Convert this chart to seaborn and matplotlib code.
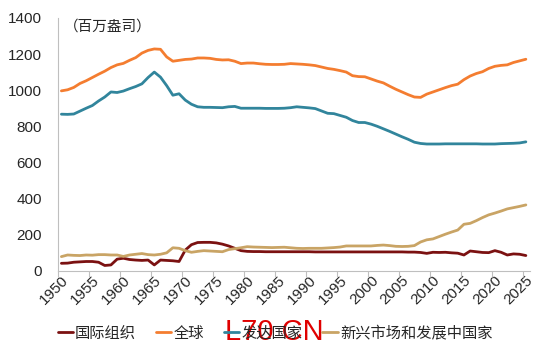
import numpy as np
import pandas as pd
import matplotlib
matplotlib.use("Agg")
import matplotlib.pyplot as plt
import seaborn as sns

# -----------------------------
# data (million ounces)
# -----------------------------
years = list(range(1950, 2026))

world = [996, 1002, 1015, 1037, 1052, 1070, 1088, 1105, 1125, 1140,
         1148, 1165, 1180, 1205, 1220, 1228, 1226, 1184, 1160, 1165,
         1170, 1172, 1178, 1178, 1176, 1170, 1167, 1168, 1160, 1147,
         1150, 1150, 1146, 1143, 1142, 1142, 1143, 1147, 1145, 1143,
         1140, 1136, 1128, 1120, 1115, 1108, 1100, 1080, 1075, 1074,
         1062, 1050, 1040, 1022, 1005, 990, 975, 962, 960, 978,
         990, 1002, 1014, 1025, 1033, 1058, 1078, 1092, 1102, 1120,
         1132, 1137, 1140, 1153, 1162, 1171]

advanced = [867, 866, 868, 884, 900, 915, 940, 962, 990, 987,
            995, 1008, 1020, 1035, 1070, 1100, 1072, 1025, 972, 980,
            945, 922, 908, 905, 905, 904, 903, 908, 910, 900,
            900, 900, 900, 899, 899, 899, 900, 903, 908, 905,
            902, 898, 885, 872, 870, 860, 850, 832, 821, 821,
            812, 800, 786, 772, 757, 742, 728, 712, 705, 702,
            702, 702, 703, 703, 703, 703, 703, 703, 702, 702,
            702, 704, 705, 706, 708, 714]

intl_org = [42, 43, 48, 50, 52, 52, 48, 30, 33, 65,
            70, 63, 60, 58, 60, 33, 60, 58, 56, 52,
            115, 145, 157, 158, 158, 155, 148, 138, 125, 112,
            108, 107, 107, 106, 106, 106, 106, 106, 106, 106,
            106, 105, 105, 105, 105, 105, 105, 105, 105, 105,
            105, 105, 105, 105, 105, 105, 104, 104, 102, 97,
            103, 102, 103, 100, 98, 88, 110, 106, 102, 101,
            112, 103, 88, 94, 92, 85]

emerging = [79, 88, 86, 85, 88, 87, 90, 90, 88, 88,
            80, 88, 92, 96, 90, 88, 92, 100, 128, 125,
            112, 103, 108, 112, 110, 108, 106, 118, 123, 128,
            134, 132, 131, 130, 129, 130, 131, 128, 125, 124,
            125, 125, 125, 127, 129, 132, 138, 138, 138, 138,
            138, 141, 143, 140, 136, 135, 136, 140, 160, 172,
            177, 190, 203, 215, 226, 258, 263, 278, 295, 310,
            320, 331, 343, 350, 357, 365]

series_names = ["国际组织", "全球", "发达国家", "新兴市场和发展中国家"]
series_colors = ["#7B1111", "#F47D30", "#31859C", "#C9A465"]

df = pd.DataFrame({
    "year": years,
    "国际组织": intl_org,
    "全球": world,
    "发达国家": advanced,
    "新兴市场和发展中国家": emerging,
})
long_df = df.melt(id_vars="year", var_name="series", value_name="value")

# -----------------------------
# plot
# -----------------------------
sns.set_style("white")
plt.rcParams["font.family"] = ["Liberation Sans", "Noto Sans CJK SC", "DejaVu Sans"]

fig = plt.figure(figsize=(5.5, 3.5), dpi=100)
ax = fig.add_axes([0.106, 0.226, 0.858, 0.723])

sns.lineplot(data=long_df, x="year", y="value", hue="series",
             hue_order=series_names, palette=series_colors,
             linewidth=2, ax=ax, legend=False)

ax.set_xlim(1949.5, 2025.7)
ax.set_ylim(0, 1400)
ax.set_yticks(range(0, 1401, 200))
ax.set_xticks(range(1950, 2026, 5))
ax.set_xticks(np.arange(1949.5, 2026, 5), minor=True)
ax.set_xlabel("")
ax.set_ylabel("")

ax.tick_params(axis="y", labelsize=11, length=0, pad=12)
ax.tick_params(axis="x", which="major", labelsize=11, length=0, pad=2)
ax.tick_params(axis="x", which="minor", length=4, width=0.8, color="#BFBFBF",
               direction="out", bottom=True)
for lab in ax.get_xticklabels():
    lab.set_rotation(45)
    lab.set_ha("right")
    lab.set_rotation_mode("anchor")

for side in ["top", "right"]:
    ax.spines[side].set_visible(False)
for side in ["left", "bottom"]:
    ax.spines[side].set_color("#BFBFBF")
    ax.spines[side].set_linewidth(0.8)

ax.text(0.012, 0.995, "（百万盎司）", transform=ax.transAxes,
        ha="left", va="top", fontsize=10.5)

# legend
handles = [plt.Line2D([], [], color=c, linewidth=2) for c in series_colors]
fig.legend(handles, series_names, loc="center", bbox_to_anchor=(0.5, 0.048),
           ncol=4, frameon=False, fontsize=11, handlelength=1.0,
           handletextpad=0.15, columnspacing=1.3)

# red watermark
fig.text(0.498, 0.05, "L70 CN", color="#E00000", fontsize=21,
         ha="center", va="center", family="Liberation Sans")

fig.savefig("out.png", dpi=100)
